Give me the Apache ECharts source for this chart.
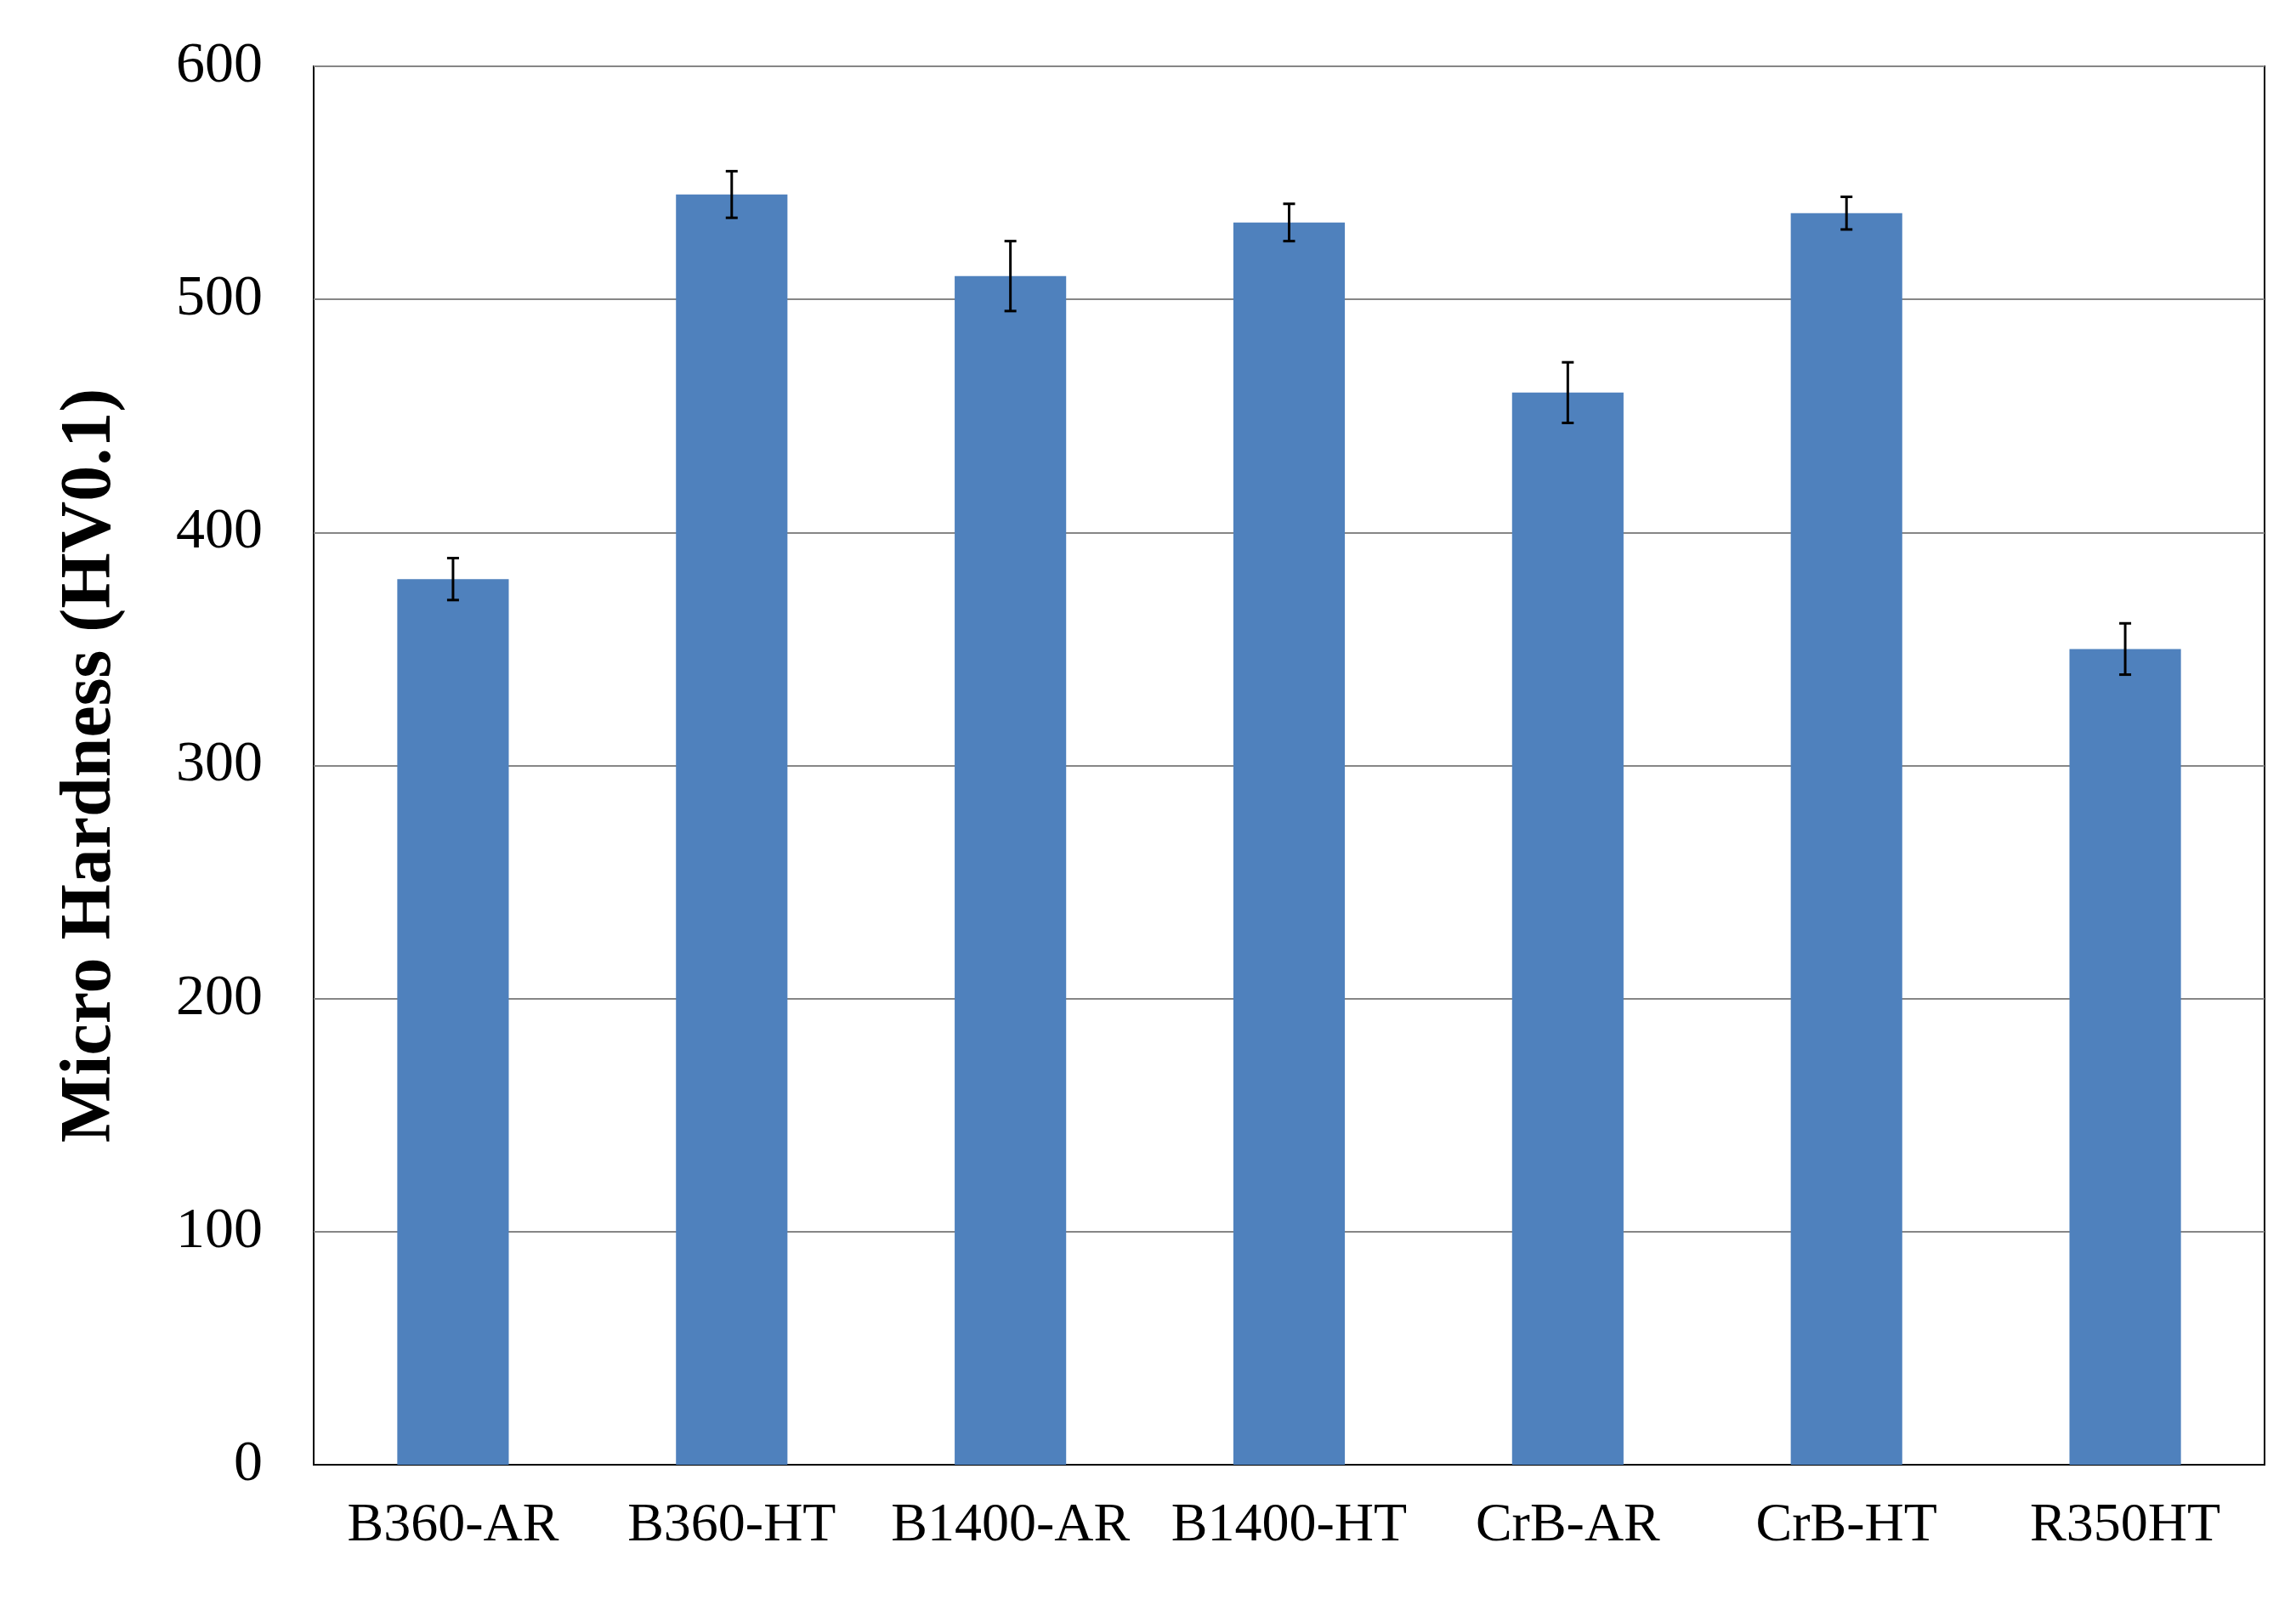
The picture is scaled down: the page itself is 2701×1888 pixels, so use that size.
<!DOCTYPE html>
<html><head><meta charset="utf-8">
<script src="https://cdn.jsdelivr.net/npm/echarts@6/dist/echarts.min.js"></script>
<style>html,body{margin:0;padding:0;background:#fff}#c{width:2701px;height:1888px}</style>
</head><body><div id="c"></div>
<script>
const categories = ['B360-AR','B360-HT','B1400-AR','B1400-HT','CrB-AR','CrB-HT','R350HT'];
const hardness = [380, 545, 510, 533, 460, 537, 350];
const errors = [9, 10, 15, 8, 13, 7, 11];
const yTicks = [0, 100, 200, 300, 400, 500, 600];

const chart = echarts.init(document.getElementById('c'));
const font = 'Liberation Serif';
chart.setOption({
  animation: false,
  grid: {left: 369, right: 37, top: 78, bottom: 165, show: true, borderColor: '#000', borderWidth: 2, backgroundColor: 'transparent'},
  xAxis: {type: 'category', data: categories,
    axisLine: {lineStyle: {color: '#000', width: 2}}, axisTick: {show: false},
    axisLabel: {fontFamily: font, fontSize: 64, color: '#000', margin: 40, interval: 0}},
  yAxis: {type: 'value', min: yTicks[0], max: yTicks[yTicks.length-1], interval: 100,
    name: 'Micro Hardness (HV0.1)', nameLocation: 'middle', nameGap: 220,
    nameTextStyle: {fontFamily: font, fontSize: 84, fontWeight: 'bold', color: '#000'},
    axisLine: {show: false}, axisTick: {show: false},
    axisLabel: {fontFamily: font, fontSize: 68, color: '#000', margin: 60},
    splitLine: {lineStyle: {color: '#868686', width: 2}}},
  series: [
    {type: 'bar', data: hardness, barWidth: '40%', itemStyle: {color: '#4f81bd'}},
    {type: 'custom', data: hardness.map((v,i)=>[i, v-errors[i], v+errors[i]]),
     renderItem: (params, api) => {
       const lo = api.coord([api.value(0), api.value(1)]);
       const hi = api.coord([api.value(0), api.value(2)]);
       const w = 7;
       const st = {stroke: '#000', lineWidth: 3};
       return {type: 'group', children: [
         {type: 'line', shape: {x1: lo[0], y1: lo[1], x2: hi[0], y2: hi[1]}, style: st},
         {type: 'line', shape: {x1: lo[0]-w, y1: lo[1], x2: lo[0]+w, y2: lo[1]}, style: st},
         {type: 'line', shape: {x1: hi[0]-w, y1: hi[1], x2: hi[0]+w, y2: hi[1]}, style: st}
       ]};
     }, z: 10}
  ]
});
</script></body></html>
